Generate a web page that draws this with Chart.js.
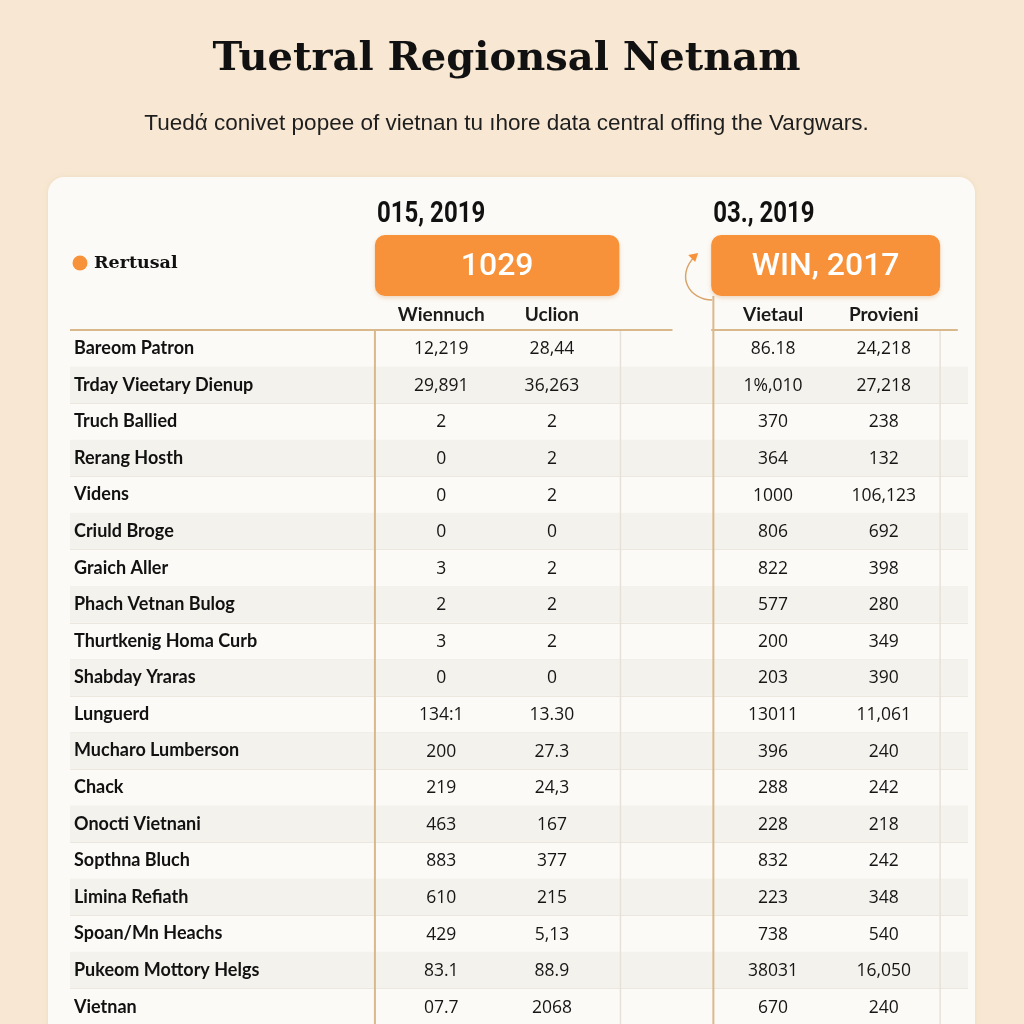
<!DOCTYPE html>
<html>
<head>
<meta charset="utf-8">
<script src="https://cdn.jsdelivr.net/npm/chart.js@4.4.1/dist/chart.umd.min.js"></script>
<style>
  html, body { margin: 0; padding: 0; background: #f8e8d3; overflow: hidden; width: 1024px; height: 1024px; }
  canvas { display: block; }
</style>
</head>
<body>
<canvas id="tabla" width="1024" height="1040"></canvas>
<script>
// datos de la tabla
const titulo = "Tuetral Regionsal Netnam";
const subtitulo = "Tuedά conivet popee of vietnan tu ıhore data central offing the Vargwars.";
const leyenda = "Rertusal";
const grupos = ["015, 2019", "03., 2019"];
const cajas = ["1029", "WIN, 2017"];
const columnas = ["Wiennuch", "Uclion", "", "Vietaul", "Provieni"];

const filas = [
  "Bareom Patron", "Trday Vieetary Dienup", "Truch Ballied", "Rerang Hosth", "Videns",
  "Criuld Broge", "Graich Aller", "Phach Vetnan Bulog", "Thurtkenig Homa Curb", "Shabday Yraras",
  "Lunguerd", "Mucharo Lumberson", "Chack", "Onocti Vietnani", "Sopthna Bluch",
  "Limina Refiath", "Spoan/Mn Heachs", "Pukeom Mottory Helgs", "Vietnan"
];

const wiennuch = ["12,219", "29,891", "2", "0", "0", "0", "3", "2", "3", "0",
  "134:1", "200", "219", "463", "883", "610", "429", "83.1", "07.7"];
const uclion = ["28,44", "36,263", "2", "2", "2", "0", "2", "2", "2", "0",
  "13.30", "27.3", "24,3", "167", "377", "215", "5,13", "88.9", "2068"];
const vietaul = ["86.18", "1%,010", "370", "364", "1000", "806", "822", "577", "200", "203",
  "13011", "396", "288", "228", "832", "223", "738", "38031", "670"];
const provieni = ["24,218", "27,218", "238", "132", "106,123", "692", "398", "280", "349", "390",
  "11,061", "240", "242", "218", "242", "348", "540", "16,050", "240"];

const NARANJA = "#f7923a";
const TAN = "#d9b98c";

function serie(col, textos) {
  return {
    label: col,
    data: filas.map(f => ({ x: col, y: f })),
    textos: textos,
    pointRadius: 0,
    pointHoverRadius: 0
  };
}

function roundRect(ctx, x, y, w, h, r) {
  ctx.beginPath();
  ctx.moveTo(x + r, y);
  ctx.arcTo(x + w, y, x + w, y + h, r);
  ctx.arcTo(x + w, y + h, x, y + h, r);
  ctx.arcTo(x, y + h, x, y, r);
  ctx.arcTo(x, y, x + w, y, r);
  ctx.closePath();
}

// fondo, franjas y lineas
const fondoTabla = {
  id: "fondoTabla",
  beforeDraw(chart) {
    const { ctx, chartArea: a, scales: { x, y } } = chart;
    const paso = x.getPixelForValue(1) - x.getPixelForValue(0);
    const fila = y.getPixelForValue(1) - y.getPixelForValue(0);
    ctx.save();
    ctx.fillStyle = "#f8e8d3";
    ctx.fillRect(0, 0, chart.width, chart.height);

    // tarjeta
    ctx.shadowColor = "rgba(150,110,60,0.10)";
    ctx.shadowBlur = 6;
    ctx.fillStyle = "#fcfaf6";
    roundRect(ctx, 48, 177, 927, 900, 16);
    ctx.fill();
    ctx.shadowBlur = 0;

    const izq = a.left - 316, der = a.right + 29;
    filas.forEach((f, i) => {
      const cy = y.getPixelForValue(i);
      if (i % 2 === 1) {
        ctx.fillStyle = "#f4f2ed";
        ctx.fillRect(izq, cy - fila / 2, der - izq, fila);
      }
      ctx.strokeStyle = "#ebe7df";
      ctx.lineWidth = 1;
      ctx.beginPath();
      ctx.moveTo(izq, Math.round(cy + fila / 2) + 0.5);
      ctx.lineTo(der, Math.round(cy + fila / 2) + 0.5);
      ctx.stroke();
    });

    // lineas verticales
    const v = [
      [x.getPixelForValue(0) - paso * 0.6, a.top, TAN, 2],
      [x.getPixelForValue(1) + paso * 0.62, a.top, "#e6e1d8", 1.5],
      [x.getPixelForValue(3) - paso * 0.54, 296, TAN, 2],
      [x.getPixelForValue(4) + paso * 0.51, a.top, "#e6e1d8", 1.5]
    ];
    v.forEach(([px, top, c, w]) => {
      ctx.strokeStyle = c;
      ctx.lineWidth = w;
      ctx.beginPath();
      ctx.moveTo(px, top);
      ctx.lineTo(px, chart.height);
      ctx.stroke();
    });

    // linea bajo encabezados
    ctx.strokeStyle = TAN;
    ctx.lineWidth = 2;
    ctx.beginPath();
    ctx.moveTo(70, a.top);
    ctx.lineTo(x.getPixelForValue(2) + 10, a.top);
    ctx.moveTo(x.getPixelForValue(3) - paso * 0.56, a.top);
    ctx.lineTo(x.getPixelForValue(4) + paso * 0.67, a.top);
    ctx.stroke();
    ctx.restore();
  },
  afterDatasetsDraw(chart) {
    const ctx = chart.ctx;
    ctx.save();
    ctx.font = '17.5px "Open Sans"';
    ctx.fillStyle = "#161616";
    ctx.textAlign = "center";
    ctx.textBaseline = "middle";
    chart.data.datasets.forEach((ds, di) => {
      chart.getDatasetMeta(di).data.forEach((el, i) => {
        ctx.fillText(ds.textos[i], el.x, el.y + 1);
      });
    });
    ctx.restore();
  },
  afterDraw(chart) {
    const { ctx, scales: { x } } = chart;
    const paso = x.getPixelForValue(1) - x.getPixelForValue(0);
    const bloques = [
      [x.getPixelForValue(0) - paso * 0.6, x.getPixelForValue(1) + paso * 0.61],
      [x.getPixelForValue(3) - paso * 0.56, x.getPixelForValue(4) + paso * 0.51]
    ];
    ctx.save();
    bloques.forEach(([l, r], i) => {
      // encabezado de grupo (fuente estrecha)
      ctx.save();
      ctx.fillStyle = "#111";
      ctx.font = 'bold 30px Roboto, sans-serif';
      ctx.textAlign = "left";
      ctx.textBaseline = "alphabetic";
      ctx.translate(l + 2, 222);
      ctx.scale(0.8, 1);
      ctx.fillText(grupos[i], 0, 0);
      ctx.restore();
      // caja naranja
      ctx.save();
      ctx.shadowColor = "rgba(200,110,30,0.25)";
      ctx.shadowBlur = 4;
      ctx.shadowOffsetY = 2;
      ctx.fillStyle = NARANJA;
      roundRect(ctx, l, 235, r - l, 61, 10);
      ctx.fill();
      ctx.restore();
      ctx.fillStyle = "#fff";
      ctx.font = '500 32px Roboto, sans-serif';
      ctx.textAlign = "center";
      ctx.textBaseline = "middle";
      ctx.fillText(cajas[i], (l + r) / 2, 267);
    });

    // flecha curva
    const bx = bloques[1][0];
    ctx.strokeStyle = "#d8a56b";
    ctx.lineWidth = 1.5;
    ctx.beginPath();
    ctx.moveTo(bx + 1, 300);
    ctx.bezierCurveTo(bx - 22, 300, bx - 36, 276, bx - 16, 256);
    ctx.stroke();
    ctx.fillStyle = NARANJA;
    ctx.beginPath();
    ctx.moveTo(bx - 13, 253);
    ctx.lineTo(bx - 23, 255);
    ctx.lineTo(bx - 16, 262);
    ctx.closePath();
    ctx.fill();

    // leyenda
    ctx.fillStyle = NARANJA;
    ctx.beginPath();
    ctx.arc(80, 263, 7.5, 0, Math.PI * 2);
    ctx.fill();
    ctx.fillStyle = "#111";
    ctx.font = 'bold 17.5px "DejaVu Serif", serif';
    ctx.textAlign = "left";
    ctx.textBaseline = "middle";
    ctx.fillText(leyenda, 94, 263);
    ctx.restore();
  }
};

new Chart(document.getElementById("tabla"), {
  type: "scatter",
  data: {
    datasets: [
      serie("Wiennuch", wiennuch),
      serie("Uclion", uclion),
      serie("Vietaul", vietaul),
      serie("Provieni", provieni)
    ]
  },
  options: {
    responsive: false,
    animation: false,
    events: [],
    layout: { padding: { top: 0, left: 74, right: 85, bottom: 15 } },
    plugins: {
      legend: { display: false },
      tooltip: { enabled: false },
      title: {
        display: true,
        text: titulo,
        color: "#111",
        font: { family: "DejaVu Serif", weight: "bold", size: 40 },
        padding: { top: 36, bottom: 10 }
      },
      subtitle: {
        display: true,
        text: subtitulo,
        color: "#1e1e1e",
        font: { family: "Liberation Sans", size: 22.5 },
        padding: { top: 16, bottom: 0 }
      }
    },
    scales: {
      x: {
        type: "category",
        labels: columnas,
        position: "top",
        offset: true,
        grid: { display: false, drawTicks: false },
        border: { display: false },
        ticks: {
          autoSkip: false,
          maxRotation: 0,
          padding: 4,
          color: "#1a1a1a",
          font: { family: "Lato", weight: "bold", size: 19 }
        },
        afterFit(s) { s.height = 193; }
      },
      y: {
        type: "category",
        labels: filas,
        offset: true,
        grid: { display: false, drawTicks: false },
        border: { display: false },
        ticks: {
          autoSkip: false,
          crossAlign: "far",
          padding: 0,
          color: "#111",
          font: { family: "Lato", weight: "bold", size: 18 }
        },
        afterFit(s) { s.width = 312; }
      }
    }
  },
  plugins: [fondoTabla]
});
</script>
</body>
</html>
